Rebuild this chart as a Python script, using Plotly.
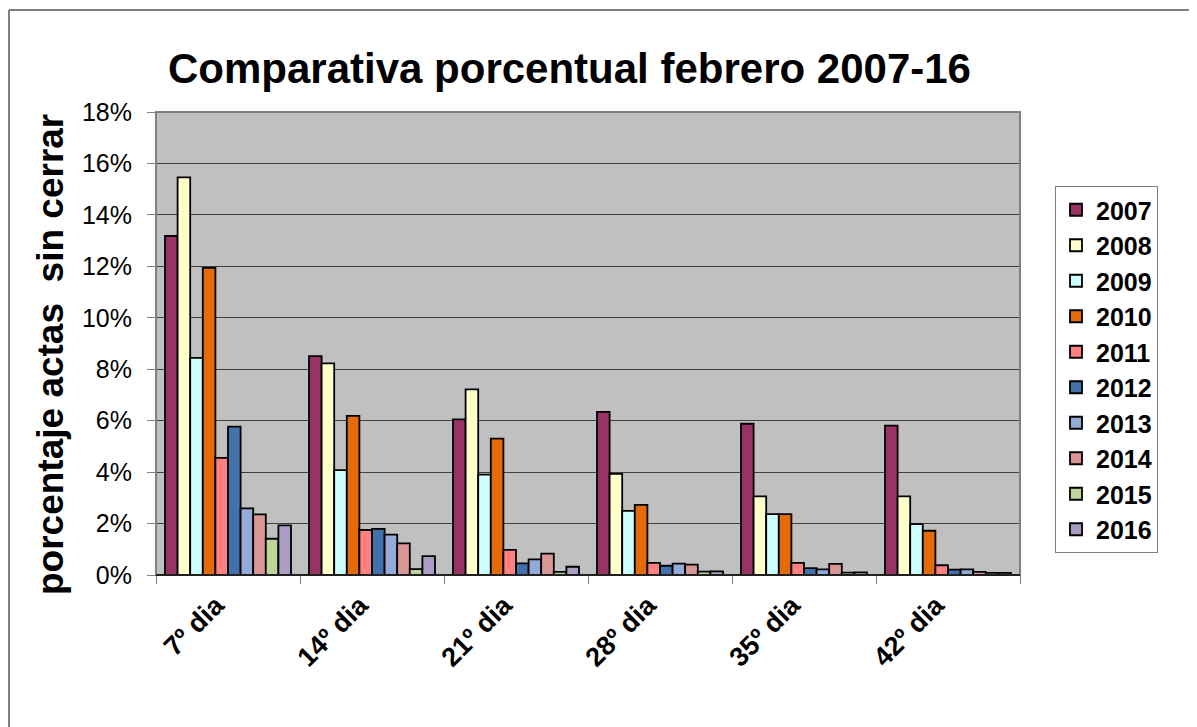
import plotly.graph_objects as go

categories = ["7º dia", "14º dia", "21º dia", "28º dia", "35º dia", "42º dia"]
years = ["2007", "2008", "2009", "2010", "2011", "2012", "2013", "2014", "2015", "2016"]

v2007 = [0.1318, 0.0851, 0.0605, 0.0634, 0.0588, 0.0581]
v2008 = [0.1546, 0.0823, 0.0722, 0.0393, 0.0306, 0.0306]
v2009 = [0.0844, 0.0408, 0.0390, 0.0249, 0.0237, 0.0198]
v2010 = [0.1194, 0.0619, 0.0530, 0.0273, 0.0237, 0.0172]
v2011 = [0.0455, 0.0175, 0.0098, 0.0047, 0.0047, 0.0038]
v2012 = [0.0577, 0.0179, 0.0045, 0.0036, 0.0027, 0.0021]
v2013 = [0.0259, 0.0157, 0.0061, 0.0044, 0.0022, 0.0022]
v2014 = [0.0236, 0.0123, 0.0083, 0.0040, 0.0043, 0.0012]
v2015 = [0.0141, 0.0023, 0.0012, 0.0013, 0.0009, 0.0008]
v2016 = [0.0193, 0.0073, 0.0032, 0.0014, 0.0010, 0.0008]

series = [v2007, v2008, v2009, v2010, v2011, v2012, v2013, v2014, v2015, v2016]
colors = ["#993366", "#FFFFCC", "#CCFFFF", "#E36C09", "#FF8080",
          "#4372AA", "#95ABD7", "#D99694", "#BDD49B", "#AA9CC2"]

y_ticks = [0, 0.02, 0.04, 0.06, 0.08, 0.10, 0.12, 0.14, 0.16, 0.18]

FONT = "Liberation Sans, Arial, sans-serif"

fig = go.Figure()
for name, vals, col in zip(years, series, colors):
    fig.add_trace(go.Bar(
        x=categories, y=vals, name=name, legendgroup=name,
        marker=dict(color=col, line=dict(color="#000000", width=1.8)),
    ))

# page offset from the default body margin of the html page
OFF = 8
# plot area in page pixels: x 156..1020, y 112..575
L, R, T, B = 156, 1020, 112, 575
W, H = 1197 - OFF, 727 - OFF
pw, ph = R - L, B - T

def px(x):
    return (x - L) / pw

def py(y):
    return (B - y) / ph

fig.update_layout(
    width=W, height=H,
    margin=dict(l=L - OFF, r=1197 - R, t=T - OFF, b=727 - B),
    paper_bgcolor="#FFFFFF",
    plot_bgcolor="#C0C0C0",
    barmode="group",
    bargap=0.125,
    bargroupgap=0,
    font=dict(family=FONT, color="#000000"),
    showlegend=True,
    legend=dict(
        x=px(1055), y=py(186), xanchor="left", yanchor="top",
        bgcolor="#FFFFFF", bordercolor="#808080", borderwidth=1,
        font=dict(family=FONT, size=25, color="#000000", weight="bold"),
        traceorder="grouped", tracegroupgap=0,
    ),
    xaxis=dict(
        type="category",
        tickangle=-45,
        tickfont=dict(family=FONT, size=27, color="#000000", weight="bold"),
        ticks="outside", tickson="boundaries", ticklen=8, tickcolor="#808080",
        ticklabelstandoff=8, ticklabelshift=-12,
        showline=False, showgrid=False,
    ),
    yaxis=dict(
        range=[0, 0.18],
        tickvals=y_ticks,
        tickformat=".0%",
        tickfont=dict(family=FONT, size=25, color="#000000"),
        ticks="outside", ticklen=8, tickcolor="#808080",
        ticklabelstandoff=10,
        showgrid=True, gridcolor="#404040", gridwidth=1,
        zeroline=False, showline=False,
    ),
    annotations=[
        dict(text="<b>Comparativa porcentual febrero 2007-16</b>",
             xref="paper", yref="paper", x=px(569), y=py(68),
             xanchor="center", yanchor="middle", showarrow=False,
             font=dict(family=FONT, size=42, color="#000000")),
        dict(text="<b>porcentaje actas&nbsp; sin cerrar</b>",
             xref="paper", yref="paper", x=px(50), y=py(355),
             xanchor="center", yanchor="middle", showarrow=False, textangle=-90,
             font=dict(family=FONT, size=37, color="#000000")),
    ],
    shapes=[
        # plot area frame
        dict(type="rect", xref="paper", yref="paper", x0=0, x1=1, y0=0, y1=1,
             line=dict(color="#808080", width=2), layer="above"),
        # baseline
        dict(type="line", xref="paper", yref="paper", x0=0, x1=1, y0=0, y1=0,
             line=dict(color="#000000", width=1.5), layer="above"),
        # outer chart border (top and left visible)
        dict(type="line", xref="paper", yref="paper", x0=px(9), x1=px(1200),
             y0=py(10), y1=py(10), line=dict(color="#555555", width=1.5)),
        dict(type="line", xref="paper", yref="paper", x0=px(9), x1=px(9),
             y0=py(10), y1=py(730), line=dict(color="#555555", width=1.5)),
    ],
)

fig.write_html("out.html")
